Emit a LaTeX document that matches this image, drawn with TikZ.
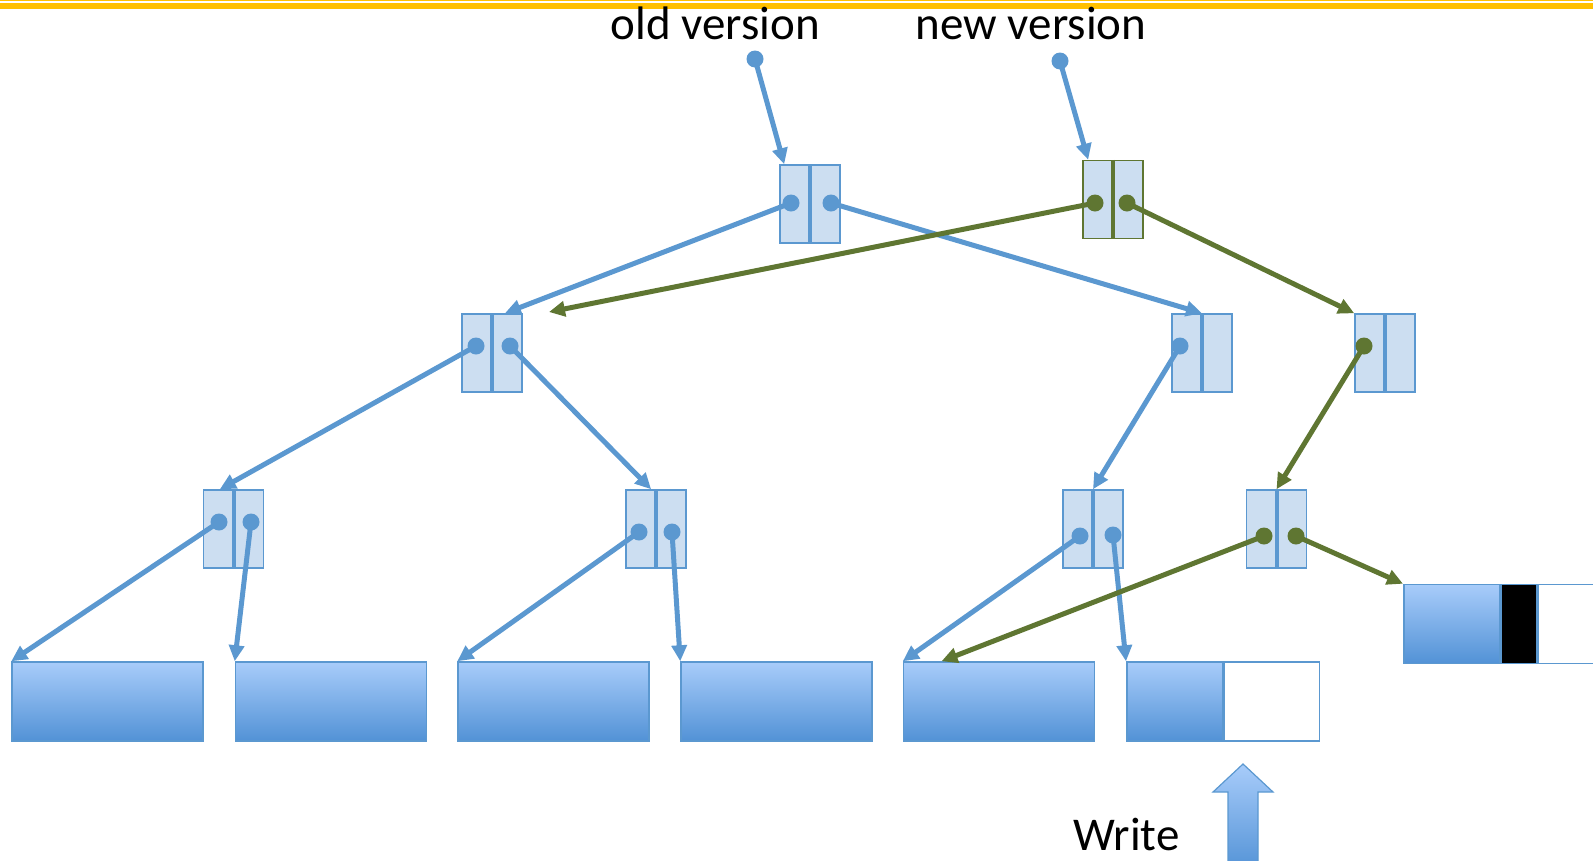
\documentclass[tikz,border=0pt]{standalone}
\usepackage{fontspec}
\setmainfont{Carlito}
\usetikzlibrary{arrows.meta}
\definecolor{ptrblue}{RGB}{91,152,208}
\definecolor{boxfill}{RGB}{204,222,241}
\definecolor{ptrgreen}{RGB}{95,118,50}
\definecolor{leaftop}{RGB}{168,204,250}
\definecolor{leafbot}{RGB}{82,146,214}
\definecolor{bargold}{RGB}{255,192,0}
\begin{document}
\begin{tikzpicture}[x=1pt,y=-1pt,
        inode/.style={draw=ptrblue, fill=boxfill, line width=1.5pt, minimum width=60pt, minimum height=78pt, inner sep=0pt},
        divider/.style={ptrblue, line width=4pt},
        leaf/.style={draw=ptrblue, line width=1.5pt, top color=leaftop, bottom color=leafbot, minimum width=191pt, minimum height=79pt, inner sep=0pt},
        halfleaf/.style={leaf, minimum width=95.5pt},
        freecell/.style={draw=ptrblue, fill=white, line width=1.5pt, minimum width=95.5pt, minimum height=79pt, inner sep=0pt},
        usedcell/.style={freecell, fill=black, minimum width=36pt},
        dot/.style={circle, fill=ptrblue, minimum size=17pt, inner sep=0pt},
        gdot/.style={dot, fill=ptrgreen},
        ptr/.style={draw=ptrblue, line width=5pt, -{Triangle[length=16pt,width=15pt]}},
        gptr/.style={ptr, draw=ptrgreen},
        lbl/.style={font=\fontsize{47pt}{56pt}\selectfont, inner sep=0pt, anchor=base}]
        \useasboundingbox (0,0) rectangle (1593,860);
        \clip (0,0) rectangle (1593,860);
        \fill[bargold] (0,0) rectangle (1593,1.2);
        \fill[bargold] (0,2.8) rectangle (1593,8.8);
        \node[lbl] (oldv) at (715.5,39) {old version};
        \node[lbl] (newv) at (1031,39) {new version};
        \node[inode] (r0) at (810,204) {};
        \node[inode, draw=ptrgreen] (r1) at (1113,199.5) {};
        \node[inode] (l1a) at (492,353) {};
        \node[inode] (l1m) at (1202,353) {};
        \node[inode] (l1n) at (1385,353) {};
        \node[inode] (l2a) at (233.5,529) {};
        \node[inode] (l2b) at (656,529) {};
        \node[inode] (l2c) at (1093,529) {};
        \node[inode] (l2d) at (1276.5,529) {};
        \draw[divider] (r0.north) -- (r0.south);
        \draw[divider, ptrgreen] (r1.north) -- (r1.south);
        \draw[divider] (l1a.north) -- (l1a.south);
        \draw[divider] (l1m.north) -- (l1m.south);
        \draw[divider] (l1n.north) -- (l1n.south);
        \draw[divider] (l2a.north) -- (l2a.south);
        \draw[divider] (l2b.north) -- (l2b.south);
        \draw[divider] (l2c.north) -- (l2c.south);
        \draw[divider] (l2d.north) -- (l2d.south);
        \node[leaf] (la) at (107.5,701.5) {};
        \node[leaf] (lb) at (331,701.5) {};
        \node[leaf] (lc) at (553.5,701.5) {};
        \node[leaf] (ld) at (776.5,701.5) {};
        \node[leaf] (le) at (999,701.5) {};
        \node[halfleaf] (lf) at (1174.5,701.5) {};
        \node[freecell, anchor=west] (lfw) at (lf.east) {};
        \node[halfleaf] (lg) at (1451.5,624) {};
        \node[usedcell, anchor=west] (lgb) at (lg.east) {};
        \node[freecell, anchor=west] (lgw) at (lgb.east) {};
        \node[dot] (oldp) at (755,59) {};
        \node[dot] (newp) at (1060,61) {};
        \node[dot] (r0a) at (791,203) {};
        \node[dot] (r0b) at (831,203) {};
        \node[gdot] (r1a) at (1095,203) {};
        \node[gdot] (r1b) at (1127,203) {};
        \node[dot] (l1aa) at (476,346) {};
        \node[dot] (l1ab) at (510,346) {};
        \node[dot] (l1ma) at (1180,346) {};
        \node[gdot] (l1na) at (1364,346) {};
        \node[dot] (l2aa) at (219,522) {};
        \node[dot] (l2ab) at (251,522) {};
        \node[dot] (l2ba) at (639,532) {};
        \node[dot] (l2bb) at (672,532) {};
        \node[dot] (l2ca) at (1080,536) {};
        \node[dot] (l2cb) at (1113,535) {};
        \node[gdot] (l2da) at (1264,536) {};
        \node[gdot] (l2db) at (1296,536) {};
        \coordinate (gtip) at (549,312);
        \draw[ptr] (oldp.center) -- (r0.123);
        \draw[ptr] (newp.center) -- (r1.122);
        \draw[ptr] (r0a.center) -- (l1a.72);
        \draw[ptr] (r0b.center) -- (l1m.north);
        \draw[ptr] (l1aa.center) -- (l2a.109);
        \draw[ptr] (l1ab.center) -- (l2b.97);
        \draw[ptr] (l1ma.center) -- (l2c.north);
        \draw[ptr] (l2aa.center) -- (la.north west);
        \draw[ptr] (l2ab.center) -- (lb.north west);
        \draw[ptr] (l2ba.center) -- (lc.north west);
        \draw[ptr] (l2bb.center) -- (ld.north west);
        \draw[ptr] (l2ca.center) -- (le.north west);
        \draw[ptr] (l2cb.center) -- (lf.north west);
        \draw[gptr] (r1a.center) -- (gtip);
        \draw[gptr] (r1b.center) -- (l1n.north west);
        \draw[gptr] (l1na.center) -- (l2d.north);
        \draw[gptr] (l2da.center) -- (le.145);
        \draw[gptr] (l2db.center) -- (lg.north west);
        \shadedraw[draw=ptrblue, line width=1.2pt, top color=leaftop, bottom color=leafbot] (1228,872) -- (1228,792) -- (1213,792) -- (1243,764) -- (1273,792) -- (1258,792) -- (1258,872) -- cycle;
        \node[lbl, anchor=base west] (wr) at (1073,850) {Write};
\end{tikzpicture}
\end{document}
